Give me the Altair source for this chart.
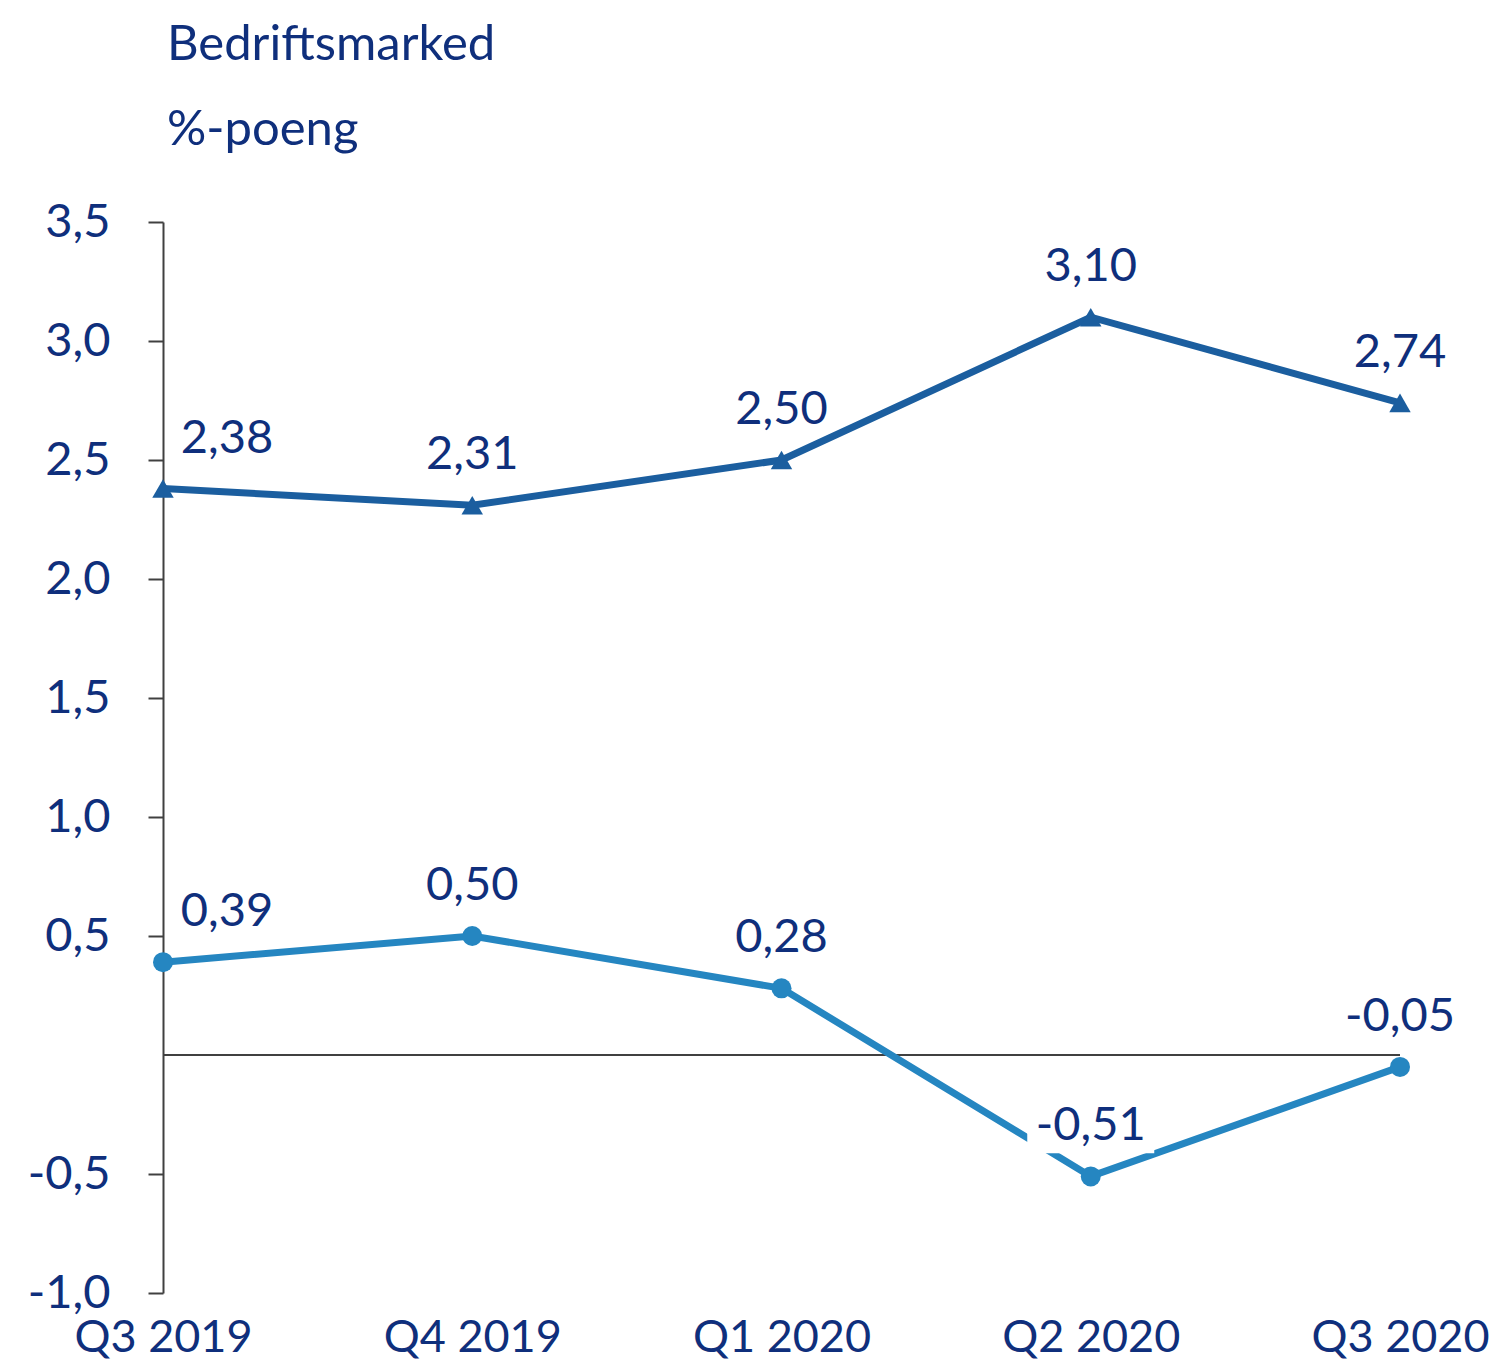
import altair as alt
import pandas as pd

quarters = ["Q3 2019", "Q4 2019", "Q1 2020", "Q2 2020", "Q3 2020"]
series_a = [2.38, 2.31, 2.50, 3.10, 2.74]      # dark blue, triangles
series_b = [0.39, 0.50, 0.28, -0.51, -0.05]    # light blue, circles
y_ticks = [-1.0, -0.5, 0.5, 1.0, 1.5, 2.0, 2.5, 3.0, 3.5]
title_lines = ["Bedriftsmarked", "%-poeng"]

NAVY = "#0F2F7C"
DARK = "#1B5E9F"
LIGHT = "#2586C1"
AXIS = "#404040"
FONT = "Lato"
FS = 47
XFS = 45
TFS = 49

df = pd.DataFrame({
    "q": quarters * 2,
    "v": series_a + series_b,
    "s": ["A"] * len(quarters) + ["B"] * len(quarters),
})

yscale = alt.Scale(domain=[-1.0, 3.5], nice=False, zero=False)

x = alt.X("q:N", sort=quarters,
          scale=alt.Scale(type="point", padding=0, domain=quarters),
          axis=alt.Axis(title=None, domain=False, ticks=False, labelAngle=0,
                        labelFont=FONT, labelFontSize=XFS, labelColor=NAVY,
                        labelPadding=22, labelBaseline="top", labelLimit=0,
                        labelOverlap=False))
y = alt.Y("v:Q", scale=yscale,
          axis=alt.Axis(title=None, values=y_ticks, grid=False,
                        domainColor=AXIS, domainWidth=2, tickColor=AXIS,
                        tickWidth=2, tickSize=15, labelPadding=38,
                        labelFont=FONT, labelFontSize=FS, labelColor=NAVY,
                        labelExpr="replace(replace(format(datum.value, '.1f'), '\u2212', '-'), '.', ',')"))

base = alt.Chart(df)

zero = alt.Chart(pd.DataFrame({"v": [0]})).mark_rule(color=AXIS, strokeWidth=2).encode(y=y)

line_a = base.transform_filter("datum.s == 'A'").mark_line(color=DARK, strokeWidth=7).encode(x=x, y=y)
line_b = base.transform_filter("datum.s == 'B'").mark_line(color=LIGHT, strokeWidth=7).encode(x=x, y=y)

pts_a = base.transform_filter("datum.s == 'A'").mark_point(
    shape="triangle-up", filled=True, opacity=1, color=DARK, size=460).encode(x=x, y=y)
pts_b = base.transform_filter("datum.s == 'B'").mark_point(
    shape="circle", filled=True, opacity=1, color=LIGHT, size=400).encode(x=x, y=y)

# white label background box for the Q2 2020 label of series B
box = base.transform_filter("datum.s == 'B' && datum.q == 'Q2 2020'").mark_point(
    shape="M-1,-0.44L1,-0.44L1,0.44L-1,0.44Z", filled=True, opacity=1,
    color="white", size=16129, yOffset=-51).encode(x=x, y=y)

lab_expr = "replace(replace(format(datum.v, '.2f'), '\u2212', '-'), '.', ',')"
labels_first = base.transform_filter("datum.q == 'Q3 2019'").transform_calculate(
    lab=lab_expr).mark_text(font=FONT, fontSize=FS, color=NAVY, align="center",
                            baseline="alphabetic", dx=64, dy=-36).encode(x=x, y=y, text="lab:N")
labels_rest = base.transform_filter("datum.q != 'Q3 2019'").transform_calculate(
    lab=lab_expr).mark_text(font=FONT, fontSize=FS, color=NAVY, align="center",
                            baseline="alphabetic", dy=-36).encode(x=x, y=y, text="lab:N")

tdf = pd.DataFrame({"t": title_lines, "i": [0, 1]})
title1 = alt.Chart(tdf).transform_filter("datum.i == 0").mark_text(
    font=FONT, fontSize=TFS, color=NAVY, align="left", baseline="alphabetic").encode(
    x=alt.value(4), y=alt.value(-162), text="t:N")
title2 = alt.Chart(tdf).transform_filter("datum.i == 1").mark_text(
    font=FONT, fontSize=TFS, color=NAVY, align="left", baseline="alphabetic").encode(
    x=alt.value(4), y=alt.value(-77), text="t:N")

chart = alt.layer(zero, line_a, line_b, box, pts_a, pts_b, labels_first, labels_rest,
                  title1, title2).properties(
    width=1237, height=1071,
    background="white",
    autosize=alt.AutoSizeParams(type="none"),
    padding={"left": 155, "top": 214, "right": 92, "bottom": 67},
).configure_view(strokeWidth=0)

chart.save("out.html", embed_options={"renderer": "svg", "actions": False})
